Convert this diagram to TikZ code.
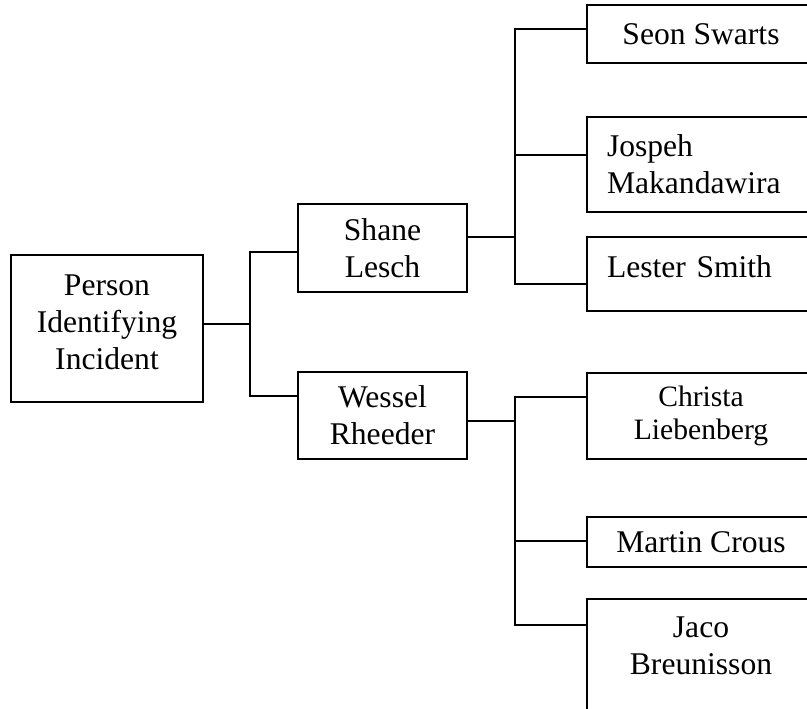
\documentclass[tikz,border=0pt]{standalone}
\usepackage{fontspec}
\setmainfont{Liberation Serif}
\usepackage{tikz}
\tikzset{
  box/.style={draw, line width=0.9pt, rectangle, align=center, inner sep=0pt,
    font=\fontsize{15.8pt}{18.5pt}\selectfont},
  cutbox/.style={box, draw=none, outer sep=0pt},
  leftbox/.style={cutbox, align=left, text width=94pt, inner xsep=10pt},
  link/.style={line width=0.9pt}
}
\begin{document}
\begin{tikzpicture}[x=0.5pt,y=-0.5pt]
\useasboundingbox (0,0) rectangle (807,708);
\clip (0,0) rectangle (807,708);

\node[box, minimum width=96pt, minimum height=73.5pt, text depth=6pt] (person) at (107,328.5) {Person\\Identifying\\Incident};
\node[box, minimum width=84.5pt, minimum height=44pt] (shane) at (382.5,248) {Shane\\Lesch};
\node[box, minimum width=84.5pt, minimum height=43.5pt] (wessel) at (382.5,415.5) {Wessel\\Rheeder};

\node[cutbox, minimum width=114pt, minimum height=29pt] (seon) at (701,34) {Seon Swarts};
\node[leftbox, minimum height=47.5pt] (jospeh) at (701,164.5) {Jospeh\\Makandawira};
\node[leftbox, minimum height=37pt, text depth=7.5pt] (lester) at (701,274) {Lester Smith};

\node[cutbox, minimum width=114pt, minimum height=43pt, font=\fontsize{14.8pt}{16.5pt}\selectfont] (christa) at (701,416) {Christa\\Liebenberg};
\node[cutbox, minimum width=114pt, minimum height=25pt] (martin) at (701,542) {Martin Crous};
\node[cutbox, minimum width=114pt, minimum height=65.5pt] (jaco) at (701,664.5) {Jaco\\Breunisson\\\mbox{}};

% right column runs off the page
\foreach \n in {seon,jospeh,lester,christa,martin,jaco}
  \draw[link] ([xshift=20pt]\n.north east) -- (\n.north west) -- (\n.south west) -- ([xshift=20pt]\n.south east);

\coordinate (pc) at (250,324);
\coordinate (ps) at (250,252);
\coordinate (pw) at (250,396);
\draw[link] (person.east |- pc) -- (pc);
\draw[link] (shane.west |- ps) -- (ps) -- (pw) -- (wessel.west |- pw);

\coordinate (s0) at (515,237);
\coordinate (s1) at (515,29);
\coordinate (s2) at (515,155);
\coordinate (s3) at (515,284);
\draw[link] (shane.east |- s0) -- (s0);
\draw[link] (seon.west |- s1) -- (s1) -- (s3) -- (lester.west |- s3);
\draw[link] (s2) -- (jospeh.west |- s2);

\coordinate (w0) at (515,421);
\coordinate (w1) at (515,397);
\coordinate (w2) at (515,541);
\coordinate (w3) at (515,625);
\draw[link] (wessel.east |- w0) -- (w0);
\draw[link] (christa.west |- w1) -- (w1) -- (w3) -- (jaco.west |- w3);
\draw[link] (w2) -- (martin.west |- w2);
\end{tikzpicture}
\end{document}
